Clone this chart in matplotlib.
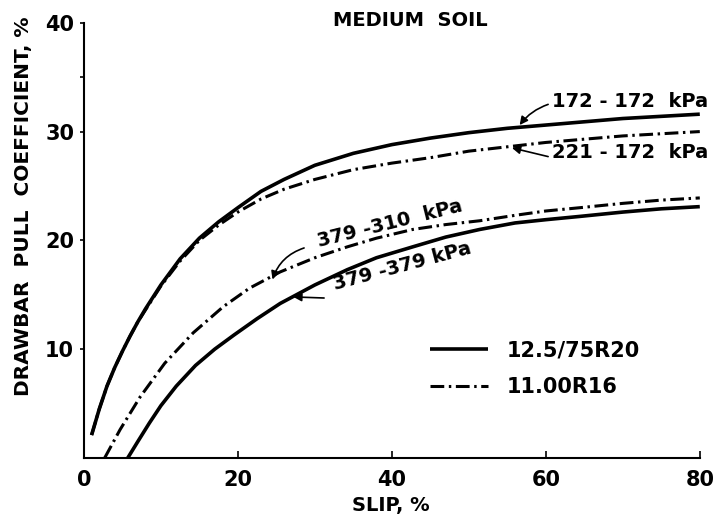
import matplotlib.pyplot as plt

plt.rcParams['font.family'] = 'DejaVu Sans'
plt.rcParams['font.weight'] = 'bold'

# drawbar pull coefficient (%) vs slip (%), medium soil
slip_172_172 = [1, 2, 3, 4, 5, 6, 7, 8, 10, 12.5, 15, 17.5, 20, 23, 26, 30, 35, 40, 45, 50, 55, 60, 65, 70, 75, 80]
pull_172_172 = [2.1, 4.5, 6.6, 8.3, 9.8, 11.2, 12.5, 13.7, 15.9, 18.3, 20.2, 21.7, 23.0, 24.5, 25.6, 26.9, 28.0,
                28.8, 29.4, 29.9, 30.3, 30.6, 30.9, 31.2, 31.4, 31.6]

slip_221_172 = [1, 2, 3, 4, 5, 6, 7, 8, 10, 12.5, 15, 17.5, 20, 23, 26, 30, 35, 40, 45, 50, 55, 60, 65, 70, 75, 80]
pull_221_172 = [2.1, 4.5, 6.6, 8.3, 9.8, 11.2, 12.5, 13.6, 15.8, 18.1, 20.0, 21.4, 22.6, 23.8, 24.7, 25.6, 26.5,
                27.1, 27.6, 28.2, 28.6, 29.0, 29.3, 29.6, 29.8, 30.0]

slip_379_379 = [5.7, 7, 8.5, 10, 12, 14.5, 17, 19.5, 22.5, 25.5, 30, 34.2, 38, 42.7, 47, 51.4, 56, 60, 64.4, 70,
                75, 80]
pull_379_379 = [0, 1.5, 3.2, 4.8, 6.6, 8.5, 10.0, 11.3, 12.8, 14.2, 15.9, 17.3, 18.4, 19.4, 20.3, 21.0, 21.6, 21.9,
                22.2, 22.6, 22.9, 23.1]

slip_379_310 = [2.7, 4.7, 7.3, 10.5, 14.2, 18.1, 21.5, 25.5, 30, 34.2, 38, 42.7, 47, 51.4, 56, 60, 64.4, 70, 75, 80]
pull_379_310 = [0, 2.6, 5.6, 8.7, 11.5, 13.9, 15.6, 17.1, 18.4, 19.4, 20.2, 21.0, 21.45, 21.8, 22.3, 22.7, 23.0,
                23.4, 23.7, 23.9]

tyre_names = ['12.5/75R20', '11.00R16']

dashdot = (4.5, 1.5, 0.8, 1.5)

fig = plt.figure(figsize=(7.17, 5.18), dpi=100)
ax = fig.add_axes([0.117, 0.116, 0.859, 0.840])

l1, = ax.plot(slip_172_172, pull_172_172, color='black', lw=2.6, solid_capstyle='butt')
ax.plot(slip_379_379, pull_379_379, color='black', lw=2.6, solid_capstyle='butt')
l2, = ax.plot(slip_221_172, pull_221_172, color='black', lw=2.2, dashes=dashdot)
ax.plot(slip_379_310, pull_379_310, color='black', lw=2.2, dashes=dashdot)

ax.set_xlim(0, 80)
ax.set_ylim(0, 40)
ax.set_xticks([0, 20, 40, 60, 80])
ax.set_yticks([10, 20, 30, 40])
ax.set_yticks([35], minor=True)
ax.tick_params(axis='x', direction='in', length=5, width=1.2, pad=9, labelsize=15)
ax.tick_params(axis='y', direction='out', length=3, width=1.2, pad=4, labelsize=15)
ax.tick_params(axis='y', which='minor', direction='out', length=3, width=1.2)
for lab in ax.get_xticklabels() + ax.get_yticklabels():
    lab.set_fontweight('bold')
ax.spines['top'].set_visible(False)
ax.spines['right'].set_visible(False)
ax.spines['left'].set_linewidth(1.5)
ax.spines['bottom'].set_linewidth(1.5)

# curve labels with pointer arrows
txt = dict(fontsize=14, fontweight='bold', ha='center', va='center')
arr = dict(arrowstyle='-|>', color='black', lw=1.2, mutation_scale=12, shrinkA=0, shrinkB=0)

ax.text(70.9, 32.75, '172 - 172  kPa', clip_on=False, **txt)
ax.annotate('', xy=(56.6, 30.6), xytext=(60.3, 32.5),
            arrowprops=dict(connectionstyle='arc3,rad=0.15', **arr))

ax.text(70.9, 28.1, '221 - 172  kPa', clip_on=False, **txt)
ax.annotate('', xy=(55.6, 28.5), xytext=(60.3, 27.7),
            arrowprops=dict(connectionstyle='arc3,rad=0.0', **arr))

ax.text(39.7, 21.5, '379 -310  kPa', rotation=14, **txt)
ax.annotate('', xy=(24.5, 16.4), xytext=(28.6, 19.3),
            arrowprops=dict(connectionstyle='arc3,rad=0.25', **arr))

ax.text(41.4, 17.6, '379 -379 kPa', rotation=15, **txt)
ax.annotate('', xy=(27.2, 14.8), xytext=(31.2, 14.7),
            arrowprops=dict(connectionstyle='arc3,rad=0.0', **arr))

ax.legend([l1, l2], tyre_names, loc='center left', bbox_to_anchor=(0.562, 0.205),
          frameon=False, borderpad=0, borderaxespad=0, handlelength=2.8,
          handletextpad=0.9, labelspacing=0.8, prop={'size': 15, 'weight': 'bold'})

fig.text(410 / 717, 1 - 20 / 518, 'MEDIUM  SOIL', fontsize=14, fontweight='bold', ha='center', va='center')
fig.text(391 / 717, 1 - 505 / 518, 'SLIP, %', fontsize=14, fontweight='bold', ha='center', va='center')
fig.text(24 / 717, 1 - 206 / 518, 'DRAWBAR  PULL  COEFFICIENT, %', fontsize=14.5, fontweight='bold',
         rotation=90, ha='center', va='center')

fig.savefig('out.png', dpi=100)
